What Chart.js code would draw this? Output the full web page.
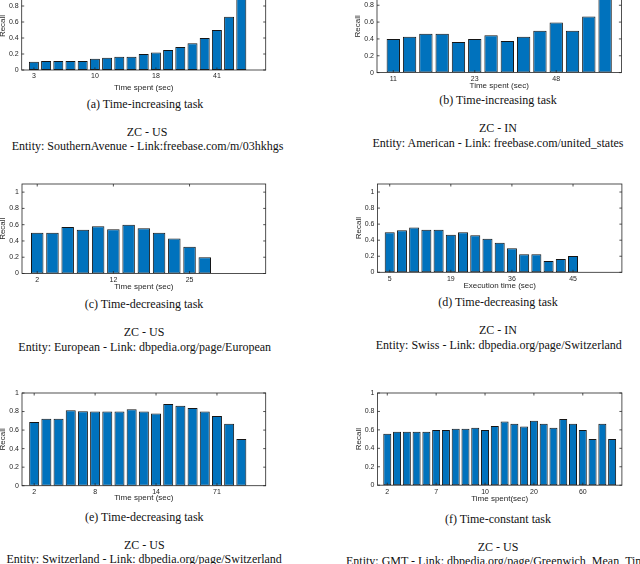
<!DOCTYPE html>
<html>
<head>
<meta charset="utf-8">
<script src="https://cdn.jsdelivr.net/npm/chart.js@4/dist/chart.umd.min.js"></script>
<style>
  html, body { margin: 0; padding: 0; background: #fff; }
  body { width: 640px; height: 564px; position: relative; overflow: hidden; }
  .panel { position: absolute; }
  .cap { position: absolute; transform: translate(-50%, -50%); white-space: nowrap;
         font-family: "Liberation Serif", "Times New Roman", serif; font-size: 12px; line-height: 1; color: #111; }
</style>
</head>
<body>
<script>
// recall per time bucket, one array per sub-figure
var recallA = [0.104, 0.112, 0.112, 0.112, 0.112, 0.142, 0.154, 0.167, 0.167, 0.2, 0.22, 0.25, 0.287, 0.333, 0.4, 0.5, 0.667, 1.0];
var recallB = [0.398, 0.426, 0.461, 0.461, 0.363, 0.398, 0.445, 0.374, 0.426, 0.497, 0.595, 0.497, 0.666, 1.0];
var recallC = [0.5, 0.5, 0.57, 0.537, 0.58, 0.545, 0.6, 0.557, 0.5, 0.43, 0.33, 0.2, 0, 0, 0];
var recallD = [0.5, 0.525, 0.558, 0.53, 0.53, 0.467, 0.5, 0.462, 0.417, 0.367, 0.3, 0.225, 0.225, 0.142, 0.167, 0.204];
var recallE = [0.687, 0.723, 0.723, 0.813, 0.802, 0.8, 0.8, 0.8, 0.824, 0.8, 0.78, 0.88, 0.863, 0.838, 0.8, 0.752, 0.669, 0.504];
var recallF = [0.558, 0.58, 0.58, 0.58, 0.58, 0.598, 0.598, 0.612, 0.612, 0.623, 0.598, 0.641, 0.692, 0.667, 0.638, 0.699, 0.667, 0.623, 0.717, 0.667, 0.598, 0.5, 0.667, 0.5];

// x tick positions (bar index) and their labels
var tickPosA = [1, 6, 11, 16];      var tickLabA = ['3', '10', '18', '41'];
var tickPosB = [1, 6, 11];          var tickLabB = ['11', '23', '48'];
var tickPosC = [1, 6, 11];          var tickLabC = ['2', '12', '25'];
var tickPosD = [1, 6, 11, 16];      var tickLabD = ['5', '19', '36', '45'];
var tickPosE = [1, 6, 11, 16];      var tickLabE = ['2', '8', '14', '71'];
var tickPosF = [1, 6, 11, 16, 21];  var tickLabF = ['2', '7', '10', '20', '60'];

var yTicks = [0, 0.2, 0.4, 0.6, 0.8, 1];

var panels = [
  { data: recallA, pos: tickPosA, lab: tickLabA, xMax: 20, yMax: 1.1, xTitle: 'Time spent (sec)',
    caps: ['(a) Time-increasing task', 'ZC - US', 'Entity: SouthernAvenue - Link:freebase.com/m/03hkhgs'],
    box: { l: 22, t: -18.3, r: 266, b: 69.7 }, yl: 3.3, tickOff: 6.3, titleOff: 18,
    capXY: [[145, 104], [147, 131.7], [147.5, 145.7]] },
  { data: recallB, pos: tickPosB, lab: tickLabB, xMax: 15, yMax: 1.1, xTitle: 'Time spent (sec)',
    caps: ['(b) Time-increasing task', 'ZC - IN', 'Entity: American - Link: freebase.com/united_states'],
    box: { l: 377.3, t: -19.9, r: 621.7, b: 72.7 }, yl: 358.3, tickOff: 6.6, titleOff: 13.3,
    capXY: [[498, 100], [498, 128.3], [498, 143.3]] },
  { data: recallC, pos: tickPosC, lab: tickLabC, xMax: 16, yMax: 1.1, xTitle: 'Time spent (sec)',
    caps: ['(c) Time-decreasing task', 'ZC - US', 'Entity: European - Link: dbpedia.org/page/European'],
    box: { l: 22, t: 183.5, r: 265.7, b: 273 }, yl: 3, tickOff: 6.3, titleOff: 13.7,
    capXY: [[144, 304.3], [144, 332.3], [144.7, 347.3]] },
  { data: recallD, pos: tickPosD, lab: tickLabD, xMax: 20, yMax: 1.1, xTitle: 'Execution time (sec)',
    caps: ['(d) Time-decreasing task', 'ZC - IN', 'Entity: Swiss - Link: dbpedia.org/page/Switzerland'],
    box: { l: 377.3, t: 184, r: 621.7, b: 272.3 }, yl: 358.8, tickOff: 6.7, titleOff: 13.4,
    capXY: [[498, 302], [498, 330], [498.8, 345]] },
  { data: recallE, pos: tickPosE, lab: tickLabE, xMax: 20, yMax: 1, xTitle: 'Time spent (sec)',
    caps: ['(e) Time-decreasing task', 'ZC - US', 'Entity: Switzerland - Link: dbpedia.org/page/Switzerland'],
    box: { l: 22, t: 393.3, r: 265.7, b: 486 }, yl: 3, tickOff: 6.3, titleOff: 12.7,
    capXY: [[144.3, 516.7], [144.3, 545.3], [144.2, 559.3]] },
  { data: recallF, pos: tickPosF, lab: tickLabF, xMax: 25, yMax: 1, xTitle: 'Time spent(sec)',
    caps: ['(f) Time-constant task', 'ZC - US', 'Entity: GMT - Link: dbpedia.org/page/Greenwich_Mean_Time'],
    box: { l: 377.3, t: 393.3, r: 621.7, b: 485.5 }, yl: 358.8, tickOff: 6.8, titleOff: 13.5,
    capXY: [[498, 518.7], [498, 546.7], [498, 560.7]] }
];

var axisColor = '#262626';
var tickFont = { family: 'Liberation Sans', size: 7, lineHeight: 1.2 };
var titleFont = { family: 'Liberation Sans', size: 8, lineHeight: 1 };

// matlab-style box with inward ticks
var boxPlugin = {
  id: 'box',
  afterDraw: function (chart) {
    var ctx = chart.ctx, a = chart.chartArea;
    var xs = chart.scales.x, ys = chart.scales.y;
    ctx.save();
    ctx.strokeStyle = axisColor;
    ctx.lineWidth = 0.8;
    ctx.strokeRect(a.left, a.top, a.right - a.left, a.bottom - a.top);
    ctx.beginPath();
    xs.ticks.forEach(function (t) {
      var px = xs.getPixelForValue(t.value);
      ctx.moveTo(px, a.bottom); ctx.lineTo(px, a.bottom - 2.5);
      ctx.moveTo(px, a.top); ctx.lineTo(px, a.top + 2.5);
    });
    ys.ticks.forEach(function (t) {
      var py = ys.getPixelForValue(t.value);
      ctx.moveTo(a.left, py); ctx.lineTo(a.left + 2.5, py);
      ctx.moveTo(a.right, py); ctx.lineTo(a.right - 2.5, py);
    });
    ctx.stroke();
    ctx.restore();
  }
};

panels.forEach(function (p) {
  var b = p.box;
  var cLeft = p.yl - titleFont.size / 2;
  var cTop = b.t - 8;
  var W = Math.round(b.r + 4 - cLeft);
  var H = Math.round(b.b + p.titleOff + 4 - cTop);
  var padRight = W - (b.r - cLeft);
  var yW = b.l - cLeft;
  var xH = H - (b.b - cTop);

  var div = document.createElement('div');
  div.className = 'panel';
  div.style.left = cLeft + 'px';
  div.style.top = cTop + 'px';
  div.style.width = W + 'px';
  div.style.height = H + 'px';
  var cv = document.createElement('canvas');
  div.appendChild(cv);
  document.body.appendChild(div);

  new Chart(cv.getContext('2d'), {
    type: 'bar',
    data: {
      datasets: [{
        data: p.data.map(function (v, i) { return { x: i + 1, y: v }; }),
        backgroundColor: '#0072BD',
        borderColor: '#151515',
        borderWidth: 1,
        borderSkipped: false,
        categoryPercentage: 1,
        barPercentage: 0.82
      }]
    },
    options: {
      responsive: true,
      maintainAspectRatio: false,
      animation: false,
      layout: { padding: { left: 0, top: 8, right: padRight, bottom: 0 } },
      plugins: { legend: { display: false }, tooltip: { enabled: false } },
      scales: {
        x: {
          type: 'linear', min: 0, max: p.xMax, offset: false,
          grid: { display: false, drawTicks: false },
          border: { display: false },
          afterBuildTicks: function (s) { s.ticks = p.pos.map(function (v) { return { value: v }; }); },
          afterFit: function (s) { s.height = xH; },
          ticks: {
            autoSkip: false, maxRotation: 0, color: axisColor, font: tickFont,
            padding: p.tickOff - tickFont.size * tickFont.lineHeight / 2,
            callback: function (v) { return p.lab[p.pos.indexOf(v)]; }
          },
          title: { display: true, text: p.xTitle, color: axisColor, font: titleFont, padding: 0 }
        },
        y: {
          min: 0, max: p.yMax,
          grid: { display: false, drawTicks: false },
          border: { display: false },
          afterBuildTicks: function (s) { s.ticks = yTicks.map(function (v) { return { value: v }; }); },
          afterFit: function (s) { s.width = yW; },
          ticks: {
            color: axisColor, font: tickFont, padding: 3,
            callback: function (v) { return String(+v.toFixed(1)); }
          },
          title: { display: true, text: 'Recall', color: axisColor, font: titleFont, padding: 0 }
        }
      }
    },
    plugins: [boxPlugin]
  });

  p.caps.forEach(function (txt, k) {
    var d = document.createElement('div');
    d.className = 'cap';
    d.textContent = txt;
    d.style.left = p.capXY[k][0] + 'px';
    d.style.top = p.capXY[k][1] + 'px';
    document.body.appendChild(d);
  });
});
</script>
</body>
</html>
